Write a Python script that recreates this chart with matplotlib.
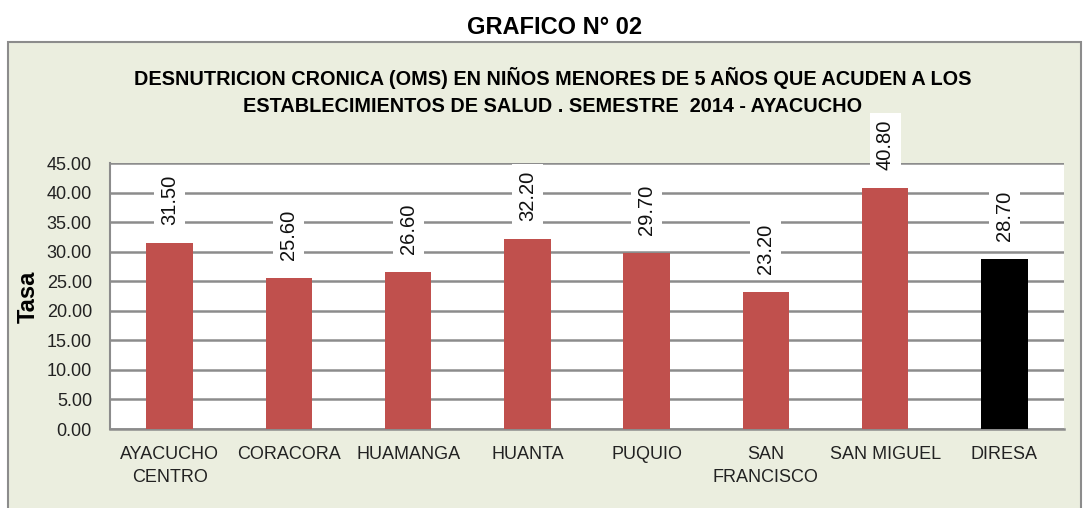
import matplotlib
matplotlib.use("Agg")
import matplotlib.pyplot as plt
from matplotlib.patches import Rectangle

categories = ["AYACUCHO\nCENTRO", "CORACORA", "HUAMANGA", "HUANTA", "PUQUIO",
              "SAN\nFRANCISCO", "SAN MIGUEL", "DIRESA"]
values = [31.50, 25.60, 26.60, 32.20, 29.70, 23.20, 40.80, 28.70]
bar_colors = ["#C0504D"] * 7 + ["#000000"]
yticks = [0, 5, 10, 15, 20, 25, 30, 35, 40, 45]

W, H = 1086, 508
fig = plt.figure(figsize=(W / 100, H / 100), dpi=100)
fig.patch.set_facecolor("white")

# outer chart box
fig.patches.append(Rectangle((8 / W, -0.01), (1081 - 8) / W, (508 - 42) / H + 0.01,
                             transform=fig.transFigure, facecolor="#EBEEDF",
                             edgecolor="#8C8C8C", linewidth=1.5, zorder=-5))

fam = ["Liberation Sans", "DejaVu Sans"]

fig.text(555 / W, 1 - 28 / H, "GRAFICO N° 02", ha="center", va="center",
         fontsize=17, fontweight="bold", family=fam)
fig.text(553 / W, 1 - 78 / H, "DESNUTRICION CRONICA (OMS) EN NIÑOS MENORES DE 5 AÑOS QUE ACUDEN A LOS",
         ha="center", va="center", fontsize=14.3, fontweight="bold", family=fam)
fig.text(553 / W, 1 - 106 / H, "ESTABLECIMIENTOS DE SALUD . SEMESTRE  2014 - AYACUCHO",
         ha="center", va="center", fontsize=14.3, fontweight="bold", family=fam)

ax = fig.add_axes([110 / W, 1 - 429 / H, (1064 - 110) / W, (429 - 163) / H])
ax.set_facecolor("white")
x = list(range(len(categories)))
ax.bar(x, values, width=0.39, color=bar_colors, zorder=3)
ax.set_xlim(-0.5, len(categories) - 0.5)
ax.set_ylim(0, 45)
ax.set_yticks(yticks)
ax.set_yticklabels([f"{v:.2f}" for v in yticks], family=fam, fontsize=13)
ax.set_xticks(x)
ax.set_xticklabels(categories, family=fam, fontsize=13, linespacing=1.45)
ax.tick_params(axis="both", length=0, colors="#222222")
ax.tick_params(axis="y", pad=13)
ax.tick_params(axis="x", pad=12)
ax.grid(axis="y", color="#8C8C8C", linewidth=1.8, zorder=1)
for s in ["top", "right"]:
    ax.spines[s].set_visible(False)
ax.spines["left"].set_color("#8C8C8C")
ax.spines["left"].set_linewidth(1.5)
ax.spines["bottom"].set_color("#8C8C8C")
ax.spines["bottom"].set_linewidth(1.8)
ax.set_ylabel("Tasa", fontsize=17, fontweight="bold", family=fam)
ax.yaxis.set_label_coords(-(110 - 40) / (1064 - 110), (429 - 297) / (429 - 163))

for xi, v in zip(x, values):
    ax.annotate(f"{v:.2f}", (xi, v), xytext=(0, 13), textcoords="offset points",
                rotation=90, ha="center", va="bottom", fontsize=14.5,
                family=fam, color="#111111",
                bbox=dict(boxstyle="square,pad=0.3", facecolor="white", edgecolor="none"),
                zorder=5, annotation_clip=False)

fig.savefig("out.png", dpi=100, facecolor=fig.get_facecolor())
